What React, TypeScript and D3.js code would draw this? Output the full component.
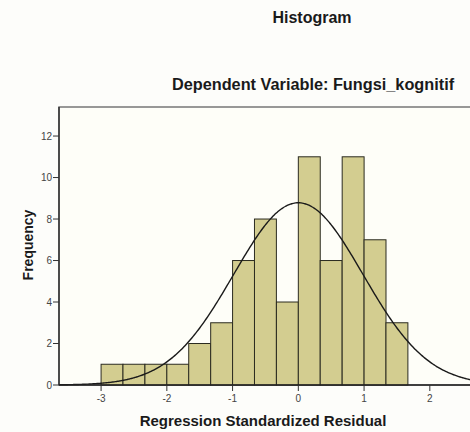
import React from "react";
import * as d3 from "d3";

// histogram bins of the regression standardized residual (lower edges, width 1/3)
const binStarts = [-3, -2.667, -2.333, -2, -1.667, -1.333, -1, -0.667, -0.333, 0, 0.333, 0.667, 1, 1.333];
const binCounts = [1, 1, 1, 1, 2, 3, 6, 8, 4, 11, 6, 11, 7, 3];
const binWidth = 1 / 3;

// fitted normal curve parameters
const curveMean = 0;
const curveStd = 0.984;
const curveN = 65;

const xTicks = [-3, -2, -1, 0, 1, 2];
const yTicks = [0, 2, 4, 6, 8, 10, 12];

const W = 470;
const H = 432;
const font = "'Liberation Sans', Arial, sans-serif";

export default function App() {
  const x = d3.scaleLinear().domain([-3.64, 2.9]).range([59, 489]);
  const y = d3.scaleLinear().domain([0, 13.4]).range([385, 107]);

  const density = (v: number) =>
    (curveN * binWidth) / (curveStd * Math.sqrt(2 * Math.PI)) *
    Math.exp(-0.5 * ((v - curveMean) / curveStd) ** 2);

  const curvePts = d3.range(-3.64, 2.9, 0.02).map((v) => [v, density(v)] as [number, number]);
  const line = d3
    .line<[number, number]>()
    .x((d) => x(d[0]))
    .y((d) => y(d[1]))
    .curve(d3.curveBasis);

  return (
    <svg width={W} height={H} style={{ position: "absolute", left: 0, top: 0 }}>
      <rect x={0} y={0} width={W} height={H} fill="#fdfdfa" />
      <text x={312} y={23} textAnchor="middle" fontFamily={font} fontWeight="bold" fontSize={16} fill="#1a1a1a">
        Histogram
      </text>
      <text x={313} y={90} textAnchor="middle" fontFamily={font} fontWeight="bold" fontSize={16.3} fill="#1a1a1a">
        Dependent Variable: Fungsi_kognitif
      </text>

      {/* plot area */}
      <rect x={59} y={107} width={440} height={278} fill="#fefef8" stroke="#777" strokeWidth={1.5} />

      {binStarts.map((b, i) => (
        <rect
          key={i}
          x={x(b)}
          y={y(binCounts[i])}
          width={x(b + binWidth) - x(b)}
          height={y(0) - y(binCounts[i])}
          fill="#d3cd90"
          stroke="#2b2b20"
          strokeWidth={1}
        />
      ))}

      <path d={line(curvePts) ?? ""} fill="none" stroke="#1a1a1a" strokeWidth={1.4} />

      {/* axes */}
      <line x1={59} y1={107} x2={59} y2={385} stroke="#222" strokeWidth={1.3} />
      <line x1={59} y1={385} x2={W} y2={385} stroke="#222" strokeWidth={1.3} />

      {yTicks.map((t) => (
        <g key={t}>
          <line x1={53} x2={59} y1={y(t)} y2={y(t)} stroke="#333" />
          <text x={52} y={y(t) + 3.5} textAnchor="end" fontFamily={font} fontSize={10} fill="#444">
            {t}
          </text>
        </g>
      ))}
      {xTicks.map((t) => (
        <g key={t}>
          <line x1={x(t)} x2={x(t)} y1={385} y2={391} stroke="#333" />
          <text x={x(t)} y={402} textAnchor="middle" fontFamily={font} fontSize={10} fill="#444">
            {t}
          </text>
        </g>
      ))}

      <text x={263} y={426} textAnchor="middle" fontFamily={font} fontWeight="bold" fontSize={15} fill="#1a1a1a">
        Regression Standardized Residual
      </text>
      <text
        transform="translate(33,245) rotate(-90)"
        textAnchor="middle"
        fontFamily={font}
        fontWeight="bold"
        fontSize={14}
        fill="#1a1a1a"
      >
        Frequency
      </text>
    </svg>
  );
}
